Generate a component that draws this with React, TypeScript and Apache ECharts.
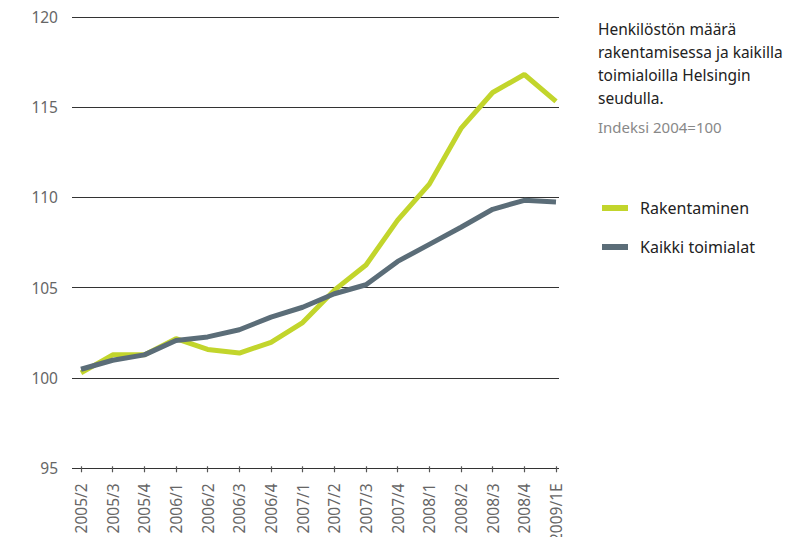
import React, { useEffect, useRef } from "react";
import * as echarts from "echarts";

const categories = [
  "2005/2", "2005/3", "2005/4", "2006/1", "2006/2", "2006/3", "2006/4", "2007/1",
  "2007/2", "2007/3", "2007/4", "2008/1", "2008/2", "2008/3", "2008/4", "2009/1E",
];
const rakentaminen = [100.2, 101.2, 101.2, 102.1, 101.5, 101.3, 101.9, 103.0, 104.8, 106.2, 108.7, 110.7, 113.8, 115.8, 116.8, 115.3];
const kaikkiToimialat = [100.4, 100.9, 101.2, 102.0, 102.2, 102.6, 103.3, 103.85, 104.6, 105.1, 106.4, 107.35, 108.3, 109.3, 109.8, 109.7];
const yMin = 95;
const yMax = 120;
const yStep = 5;
const titleLines = ["Henkilöstön määrä", "rakentamisessa ja kaikilla", "toimialoilla Helsingin", "seudulla."];
const subtitle = "Indeksi 2004=100";
const seriesNames = ["Rakentaminen", "Kaikki toimialat"];
const colors = ["#c2d52c", "#5b6d78"];

const FONT = "'Noto Sans', sans-serif";

export default function App() {
  const ref = useRef<HTMLDivElement>(null);
  useEffect(() => {
    if (!ref.current) return;
    const chart = echarts.init(ref.current, undefined, { renderer: "svg" });
    chart.setOption({
      animation: false,
      backgroundColor: "#ffffff",
      textStyle: { fontFamily: FONT },
      grid: [
        { left: 81, right: 239, top: 17, bottom: 77 },
        { left: 72, right: 236, top: 17, bottom: 77 },
      ],
      xAxis: [
        {
          type: "category",
          gridIndex: 0,
          data: categories,
          boundaryGap: false,
          axisLine: { show: false },
          axisTick: { show: true, length: 6, lineStyle: { color: "#555", width: 1.2 } },
          axisLabel: {
            rotate: 90,
            margin: 17,
            fontSize: 15.5,
            color: "#666",
            fontFamily: FONT,
            interval: 0,
          },
          splitLine: { show: false },
        },
        {
          type: "value",
          gridIndex: 1,
          show: false,
          min: 0,
          max: 1,
        },
      ],
      yAxis: [
        {
          type: "value",
          gridIndex: 0,
          min: yMin,
          max: yMax,
          interval: yStep,
          show: false,
        },
        {
          type: "value",
          gridIndex: 1,
          min: yMin,
          max: yMax,
          interval: yStep,
          axisLine: { show: false },
          axisTick: { show: false },
          axisLabel: { fontSize: 15.5, color: "#666", margin: 14, fontFamily: FONT },
          splitLine: { show: true, lineStyle: { color: "#333", width: 1 } },
        },
      ],
      legend: {
        orient: "vertical",
        left: 597,
        top: 195,
        itemWidth: 26,
        itemHeight: 6,
        itemGap: 23,
        icon: "rect",
        textStyle: { fontSize: 16, color: "#222", fontFamily: FONT, padding: [0, 0, 0, 7] },
        data: seriesNames,
      },
      series: [
        {
          name: seriesNames[0],
          type: "line",
          xAxisIndex: 0,
          yAxisIndex: 0,
          data: rakentaminen,
          showSymbol: false,
          symbol: "none",
          lineStyle: { color: colors[0], width: 5 },
          itemStyle: { color: colors[0] },
        },
        {
          name: seriesNames[1],
          type: "line",
          xAxisIndex: 0,
          yAxisIndex: 0,
          data: kaikkiToimialat,
          showSymbol: false,
          symbol: "none",
          lineStyle: { color: colors[1], width: 5 },
          itemStyle: { color: colors[1] },
        },
      ],
      graphic: [
        {
          type: "text",
          left: 598,
          top: 17,
          style: {
            text: titleLines.join("\n"),
            font: `15.5px ${FONT}`,
            fill: "#222",
            lineHeight: 23,
          },
        },
        {
          type: "text",
          left: 598,
          top: 119,
          style: {
            text: subtitle,
            font: `15px ${FONT}`,
            fill: "#888",
          },
        },
      ],
    });
    return () => chart.dispose();
  }, []);
  return <div ref={ref} style={{ width: 795, height: 545, margin: -8 }} />;
}
